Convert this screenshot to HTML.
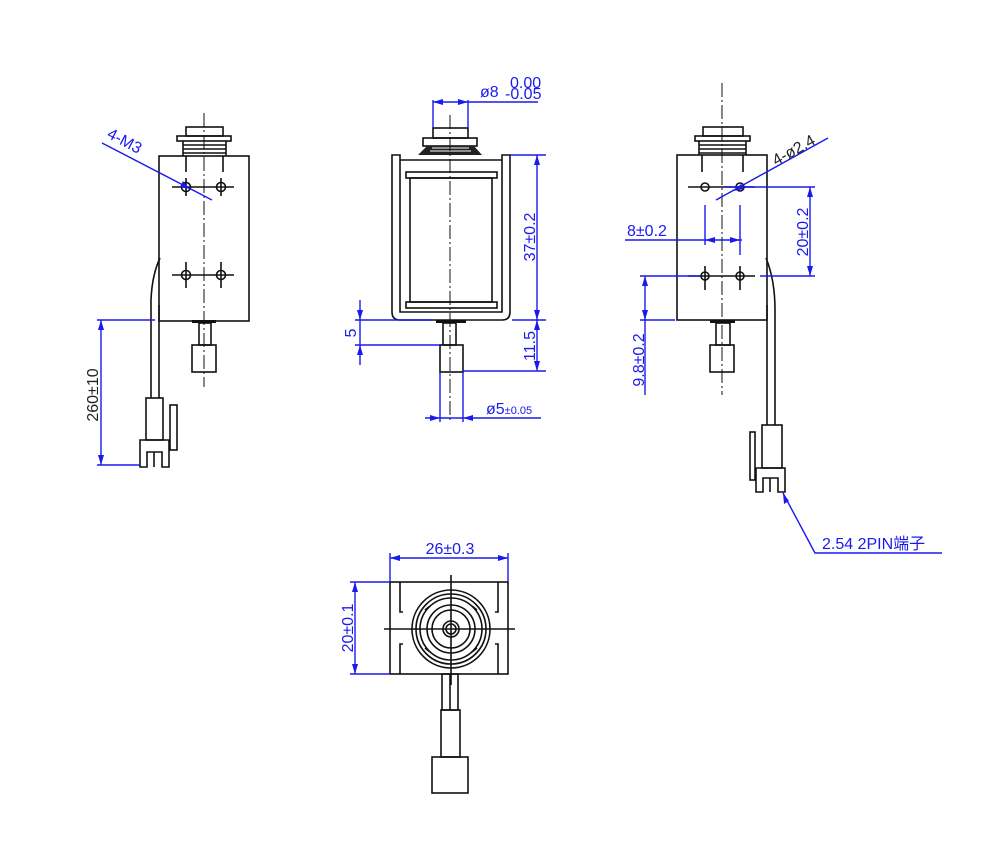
<!DOCTYPE html>
<html><head><meta charset="utf-8"><style>
html,body{margin:0;padding:0;background:#fff}
svg{display:block}
.k{stroke:#111;stroke-width:1.6;fill:none}
.c{stroke:#111;stroke-width:1;fill:none;stroke-dasharray:14 3 2 3}
.b{stroke:#1a1aee;stroke-width:1.4;fill:none}
.a{fill:#1a1aee}
text{font-family:"Liberation Sans","Noto Sans CJK SC",sans-serif;fill:#1a1aee;font-size:16px}
</style></head><body>
<svg width="1000" height="865" viewBox="0 0 1000 865">
<rect width="1000" height="865" fill="#fff"/>

<!-- LEFT VIEW -->
<g>
<rect class="k" x="159" y="156" width="90" height="165"/>
<rect class="k" x="186" y="127" width="37" height="9"/>
<rect class="k" x="177" y="136" width="54" height="5"/>
<path class="k" d="M183 141 L183 156 M226 141 L226 156 M183 145 H226 M183 149 H226 M183 153 H226 M186 156 V172 M223 156 V172"/>
<line class="c" x1="204" y1="113" x2="204" y2="387"/>
<g class="k">
<circle cx="186" cy="187" r="4.5"/><circle cx="221" cy="187" r="4.5"/>
<circle cx="186" cy="275" r="4.5"/><circle cx="221" cy="275" r="4.5"/>
<path d="M172 187 H234 M186 178 V196 M221 178 V196 M172 275 H234 M186 262 V288 M221 262 V288"/>
</g>
<rect x="192" y="320" width="24" height="3" fill="#111"/>
<rect class="k" x="199" y="323" width="12" height="22"/>
<rect class="k" x="192" y="345" width="24" height="27"/>
<path class="k" d="M160 258 Q152 275 151 300 V398 M159 305 V398"/>
<rect class="k" x="146" y="398" width="17" height="42"/>
<rect class="k" x="170" y="405" width="7" height="45"/>
<path class="k" d="M140 440 H169 V467 H162 V452 H147 V467 H140 Z M154 452 V467"/>
<path class="b" d="M97 320 H155 M101 320 V465 M97 465 H140"/>
<path class="a" d="M101 320 l-3 10 h6 z M101 465 l-3 -10 h6 z"/>
<text transform="translate(98,395) rotate(-90)" text-anchor="middle" font-size="14" style="fill:#222">260±10</text>
<line class="b" x1="102" y1="143" x2="212" y2="200"/>
<path class="a" d="M190 189 l-10 -2 l3 -6 z"/>
<text transform="translate(106,137) rotate(28)" font-size="15">4-M3</text>
</g>

<!-- MIDDLE VIEW -->
<g>
<path class="k" d="M392 155 V312 Q392 320 400 320 H502 Q510 320 510 312 V155 H502 V312 H400 V155 Z"/>
<rect class="k" x="406" y="172" width="91" height="6"/>
<rect class="k" x="410" y="178" width="82" height="124"/>
<rect class="k" x="406" y="302" width="91" height="6"/>
<path class="k" d="M400 160 H502"/>
<rect class="k" x="433" y="128" width="35" height="10"/>
<rect class="k" x="423" y="138" width="54" height="8"/>
<path d="M427 146 H474 L482 155 H418 Z" fill="#222"/>
<path d="M432 148 H469 M430 151 H471" stroke="#fff" stroke-width="1"/>
<line class="c" x1="450" y1="115" x2="450" y2="420"/>
<rect x="436" y="320" width="30" height="3" fill="#111"/>
<rect class="k" x="443" y="323" width="13" height="22"/>
<rect class="k" x="440" y="345" width="23" height="27"/>
<path class="b" d="M433 100 V128 M468 100 V128 M433 102 H538"/>
<path class="a" d="M433 102 l10 -3 v6 z M468 102 l-10 -3 v6 z"/>
<text x="480" y="97" font-size="17">ø8</text>
<text x="510" y="88" font-size="9">0.00</text>
<text x="505" y="99" font-size="9">-0.05</text>
<path class="b" d="M510 155 H546 M512 320 H546 M463 371 H546 M537 155 V371"/>
<path class="a" d="M537 155 l-3 10 h6 z M537 320 l-3 -10 h6 z M537 320 l-3 10 h6 z M537 371 l-3 -10 h6 z"/>
<text transform="translate(535,237) rotate(-90)" text-anchor="middle" font-size="17">37±0.2</text>
<text transform="translate(535,346) rotate(-90)" text-anchor="middle" font-size="17">11.5</text>
<path class="b" d="M355 320 H432 M355 345 H440 M360 300 V365"/>
<path class="a" d="M360 320 l-3 -10 h6 z M360 345 l-3 10 h6 z"/>
<text transform="translate(356,333) rotate(-90)" text-anchor="middle" font-size="17">5</text>
<path class="b" d="M440 372 V422 M463 372 V422 M425 418 H541"/>
<path class="a" d="M440 418 l-10 -3 v6 z M463 418 l10 -3 v6 z"/>
<text x="486" y="414" font-size="17">ø5<tspan font-size="11">±0.05</tspan></text>
</g>

<!-- RIGHT VIEW -->
<g>
<rect class="k" x="677" y="155" width="90" height="165"/>
<rect class="k" x="703" y="127" width="40" height="9"/>
<rect class="k" x="695" y="136" width="55" height="5"/>
<path class="k" d="M699 141 V155 M746 141 V155 M699 145 H746 M699 149 H746 M699 153 H746 M702 155 V172 M743 155 V172"/>
<line class="c" x1="722" y1="83" x2="722" y2="395"/>
<g class="k">
<circle cx="705" cy="187" r="4"/><circle cx="740" cy="187" r="4"/>
<circle cx="705" cy="276" r="4"/><circle cx="740" cy="276" r="4"/>
<path d="M688 187 H755 M688 276 H755 M705 266 V290 M740 266 V290"/>
</g>
<rect x="710" y="320" width="25" height="3" fill="#111"/>
<rect class="k" x="716" y="323" width="14" height="22"/>
<rect class="k" x="710" y="345" width="24" height="27"/>
<path class="k" d="M766 258 Q775 280 775 310 V425 M767 305 V425"/>
<rect class="k" x="762" y="425" width="20" height="43"/>
<rect class="k" x="750" y="432" width="5" height="48"/>
<path class="k" d="M756 468 H785 V492 H778 V478 H763 V492 H756 Z M770 478 V492"/>
<path class="b" d="M725 187 H815 M760 276 H815 M810 187 V276"/>
<path class="a" d="M810 187 l-3 10 h6 z M810 276 l-3 -10 h6 z"/>
<text transform="translate(808,232) rotate(-90)" text-anchor="middle" font-size="17">20±0.2</text>
<path class="b" d="M705 205 V245 M740 205 V255 M625 240 H742"/>
<path class="a" d="M705 240 l10 -3 v6 z M740 240 l-10 -3 v6 z"/>
<text x="627" y="236" font-size="17">8±0.2</text>
<path class="b" d="M640 276 H700 M640 320 H675 M645 276 V395"/>
<path class="a" d="M645 276 l-3 10 h6 z M645 320 l-3 -10 h6 z"/>
<text transform="translate(644,360) rotate(-90)" text-anchor="middle" font-size="17">9.8±0.2</text>
<line class="b" x1="716" y1="200" x2="828" y2="138"/>
<path class="a" d="M733 191 l8 -7 l3 5 z"/>
<text transform="translate(776,166) rotate(-29)" font-size="15" style="fill:#222">4-ø2.4</text>
<path class="b" d="M783 493 L815 553 H942"/>
<path class="a" d="M783 493 l1 11 l5 -3 z"/>
<text x="822" y="549" font-size="16">2.54  2PIN端子</text>
</g>

<!-- BOTTOM VIEW -->
<g>
<rect class="k" x="390" y="582" width="118" height="92"/>
<path class="k" d="M400 582 V612 H403 M400 674 V644 H403 M498 582 V612 H495 M498 674 V644 H495"/>
<g class="k">
<circle cx="451" cy="629" r="39"/><circle cx="451" cy="629" r="35"/>
<circle cx="451" cy="629" r="31"/><circle cx="451" cy="629" r="24"/>
<circle cx="451" cy="629" r="19"/><circle cx="451" cy="629" r="8"/>
<circle cx="451" cy="629" r="5"/>
<path d="M384 629 H515 M451 575 V685"/>
<path d="M425 610 l5 -4 M477 610 l-5 -4 M425 648 l5 4 M477 648 l-5 4"/>
</g>
<rect class="k" x="442" y="674" width="16" height="36"/>
<line class="k" x1="450" y1="674" x2="450" y2="710"/>
<rect class="k" x="441" y="710" width="19" height="47"/>
<rect class="k" x="432" y="757" width="36" height="36"/>
<path class="b" d="M390 553 V582 M508 553 V582 M390 558 H508"/>
<path class="a" d="M390 558 l10 -3 v6 z M508 558 l-10 -3 v6 z"/>
<text x="450" y="554" text-anchor="middle" font-size="17">26±0.3</text>
<path class="b" d="M350 582 H390 M350 674 H390 M355 582 V674"/>
<path class="a" d="M355 582 l-3 10 h6 z M355 674 l-3 -10 h6 z"/>
<text transform="translate(353,628) rotate(-90)" text-anchor="middle" font-size="17">20±0.1</text>
</g>
</svg>
</body></html>
